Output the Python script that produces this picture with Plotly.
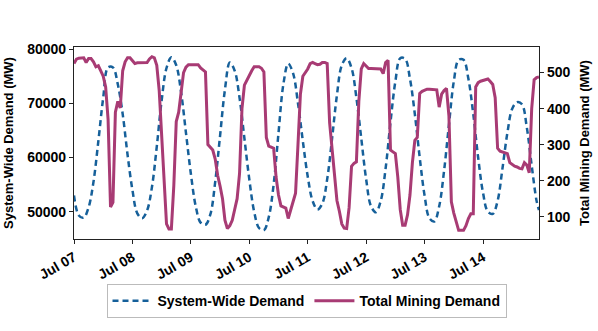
"""System-wide vs. total mining demand, hourly, Jul 07 - Jul 14"""
import pandas as pd
import plotly.graph_objects as go

# System-wide demand (MW), read every 2 h plus the last hour
system_hours = list(range(0, 191, 2)) + [191]
system_mw = [
    53000, 49300, 48900, 50800, 55500, 63000, 71000, 76600, 76600, 73500,
    68000, 60500, 54000, 49700, 48800, 50200, 54500, 62000, 70500, 76500,
    78500, 77000, 72000, 64500, 57000, 51000, 48000, 47600, 49500, 55500,
    64000, 72500, 77500, 76000, 71000, 63500, 56000, 50000, 47000, 46600,
    49000, 55000, 64500, 73500, 77300, 75500, 70000, 63000, 56500, 52000,
    50400, 51500, 56000, 63500, 71500, 77000, 78300, 76500, 71000, 63500,
    56000, 51000, 49900, 52000, 58000, 66500, 74000, 78300, 78200, 74500,
    68000, 60000, 53000, 48800, 48200, 51000, 57500, 66000, 74000, 78000,
    78000, 74500, 68000, 60000, 53500, 50000, 49600, 52000, 58000, 64500,
    69000, 70200, 69800, 65500, 58500, 52000, 50300,
]

# Total mining demand (MW), hourly
mining_mw = [
    525, 537, 540, 540, 541, 528, 539, 539, 530, 516,
    519, 505, 490, 460, 370, 127, 140, 390, 420, 402,
    505, 530, 541, 541, 532, 525, 527, 527, 528, 528,
    528, 538, 544, 541, 520, 450, 330, 200, 80, 66,
    66, 187, 364, 390, 450, 500, 515, 522, 522, 522,
    522, 522, 513, 508, 502, 300, 292, 285, 260, 215,
    185, 150, 90, 67, 75, 90, 120, 150, 220, 400,
    465, 480, 495, 505, 516, 516, 516, 512, 502, 320,
    296, 293, 290, 210, 160, 130, 126, 124, 95, 118,
    140, 165, 300, 440, 490, 500, 510, 525, 528, 525,
    522, 523, 528, 528, 525, 360, 290, 225, 145, 115,
    80, 68, 67, 125, 240, 248, 252, 420, 510, 525,
    518, 511, 511, 511, 511, 511, 510, 497, 528, 534,
    285, 280, 275, 210, 120, 76, 76, 105, 160, 250,
    312, 320, 442, 448, 451, 454, 454, 454, 454, 452,
    404, 440, 450, 456, 380, 141, 110, 85, 62, 62,
    62, 75, 95, 108, 108, 460, 472, 476, 478, 480,
    482, 475, 467, 430, 290, 282, 280, 278, 275, 250,
    245, 240, 238, 234, 233, 250, 243, 222, 400, 480,
    486, 488,
]
mining_hours = list(range(len(mining_mw)))

start = pd.Timestamp("2023-07-07")
system_time = start + pd.to_timedelta(system_hours, unit="h")
mining_time = start + pd.to_timedelta(mining_hours, unit="h")

BLUE = "#16609a"
MAGENTA = "#a83b74"

fig = go.Figure()
fig.add_trace(go.Scatter(
    x=system_time, y=system_mw, name="System-Wide Demand",
    mode="lines", line=dict(color=BLUE, width=2.5, dash="6px,4px", shape="spline"),
))
fig.add_trace(go.Scatter(
    x=mining_time, y=mining_mw, name="Total Mining Demand", yaxis="y2",
    mode="lines", line=dict(color=MAGENTA, width=3),
))

axis_common = dict(
    showline=True, linecolor="#222", linewidth=1.2, showgrid=False,
    ticks="outside", tickcolor="#222", ticklen=4, zeroline=False,
    automargin=False, tickfont=dict(size=14),
)

fig.update_layout(
    width=598, height=331,
    margin=dict(l=74, r=59, t=47, b=92),
    paper_bgcolor="white", plot_bgcolor="white",
    font=dict(family="Liberation Sans, Arial, sans-serif", size=13, color="black", weight="bold"),
    xaxis=dict(
        **axis_common, mirror=True, type="date",
        range=[start, start + pd.Timedelta(hours=191)],
        tick0=start, dtick=86400000, tickformat="%b %d", tickangle=-30,
    ),
    yaxis=dict(
        **axis_common, mirror=True, range=[44970, 80370],
        tickvals=[50000, 60000, 70000, 80000], tickformat="d",
        title=dict(text="System-Wide Demand (MW)", font=dict(size=13), standoff=10),
    ),
    yaxis2=dict(
        **axis_common, overlaying="y", side="right", range=[38, 571],
        tickvals=[100, 200, 300, 400, 500],
        title=dict(text="Total Mining Demand (MW)", font=dict(size=13), standoff=10),
    ),
    legend=dict(
        orientation="h", x=0.5, xanchor="center", y=-0.235, yanchor="top",
        bordercolor="#bbb", borderwidth=1, bgcolor="white",
        font=dict(size=14), itemwidth=40,
    ),
    showlegend=True,
)

# drop the default page margin so the figure sits at the window's corner
fig.write_html(
    "out.html",
    config={"displayModeBar": False},
    post_script="document.body.style.margin = '0';",
)
